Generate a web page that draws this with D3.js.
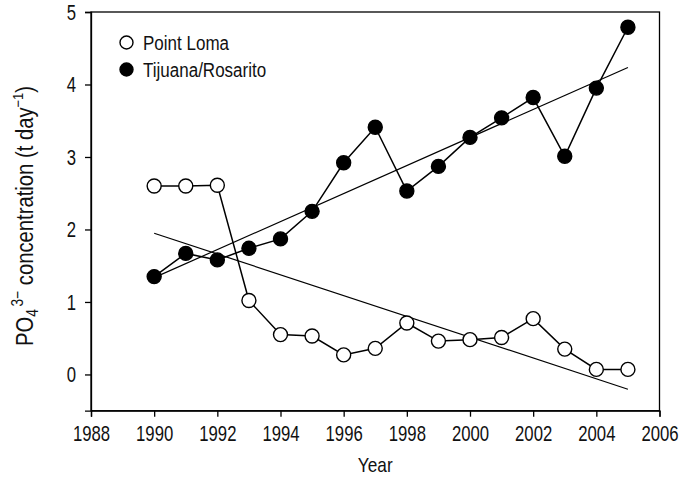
<!DOCTYPE html>
<html>
<head>
<meta charset="utf-8">
<script src="https://cdn.jsdelivr.net/npm/d3@7"></script>
<style>
  body { margin: 0; background: #fff; }
  text { font-family: "Liberation Sans", Arial, sans-serif; fill: #111; }
</style>
</head>
<body>
<div id="chart"></div>
<script>
// data
const years = [1990, 1991, 1992, 1993, 1994, 1995, 1996, 1997, 1998, 1999, 2000, 2001, 2002, 2003, 2004, 2005]
const pointLoma = [2.60, 2.60, 2.61, 1.02, 0.55, 0.53, 0.27, 0.36, 0.71, 0.46, 0.48, 0.51, 0.77, 0.35, 0.07, 0.07]
const tijuana = [1.35, 1.67, 1.58, 1.74, 1.87, 2.25, 2.92, 3.41, 2.53, 2.87, 3.27, 3.54, 3.82, 3.01, 3.95, 4.79]
const xTicks = [1988, 1990, 1992, 1994, 1996, 1998, 2000, 2002, 2004, 2006]
const yTicks = [0, 1, 2, 3, 4, 5]

const width = 689
const height = 478
const margin = { top: 12, right: 29.5, bottom: 67.3, left: 91 }

const svg = d3.select('#chart').append('svg')
  .attr('width', width)
  .attr('height', height)

const x = d3.scaleLinear().domain([1988, 2006]).range([margin.left, width - margin.right])
const y = d3.scaleLinear().domain([-0.5, 5]).range([height - margin.bottom, margin.top])

// the original uses a narrow font, squeeze the regular one
function condense(sel, k) {
  sel.each(function () {
    const len = this.getComputedTextLength()
    d3.select(this).attr('textLength', len * k).attr('lengthAdjust', 'spacingAndGlyphs')
  })
}

// least squares fit, drawn from first to last year
function fit(xs, ys) {
  const mx = d3.mean(xs), my = d3.mean(ys)
  const b = d3.sum(xs, (v, i) => (v - mx) * (ys[i] - my)) / d3.sum(xs, v => (v - mx) ** 2)
  const a = my - b * mx
  return d3.extent(xs).map(v => [v, a + b * v])
}

// frame (top and right sides)
svg.append('rect')
  .attr('x', x(1988)).attr('y', y(5))
  .attr('width', x(2006) - x(1988)).attr('height', y(-0.5) - y(5))
  .attr('fill', 'none').attr('stroke', '#000').attr('stroke-width', 1.3)

const xAxis = svg.append('g')
  .attr('transform', `translate(0,${y(-0.5)})`)
  .call(d3.axisBottom(x).tickValues(xTicks).tickFormat(d3.format('d')).tickSize(6).tickPadding(9))
const yAxis = svg.append('g')
  .attr('transform', `translate(${x(1988)},0)`)
  .call(d3.axisLeft(y).tickValues(yTicks).tickFormat(d3.format('d')).tickSize(6).tickPadding(9))

;[xAxis, yAxis].forEach(g => {
  g.selectAll('path, line').attr('stroke', '#000').attr('stroke-width', 1.3)
  g.selectAll('text').style('font-size', '22px').attr('fill', '#111')
  condense(g.selectAll('text'), 0.76)
})

const line = d3.line().x(d => x(d[0])).y(d => y(d[1]))

// trend lines
;[pointLoma, tijuana].forEach(vals => {
  svg.append('path')
    .attr('d', line(fit(years, vals)))
    .attr('fill', 'none').attr('stroke', '#000').attr('stroke-width', 1.2)
})

const series = [
  { name: 'Point Loma', values: pointLoma, fill: '#fff' },
  { name: 'Tijuana/Rosarito', values: tijuana, fill: '#000' }
]

series.forEach(s => {
  const pts = years.map((yr, i) => [yr, s.values[i]])
  svg.append('path')
    .attr('d', line(pts))
    .attr('fill', 'none').attr('stroke', '#000').attr('stroke-width', 1.5)
})

series.forEach(s => {
  svg.append('g').selectAll('circle')
    .data(years.map((yr, i) => [yr, s.values[i]]))
    .enter().append('circle')
    .attr('cx', d => x(d[0]))
    .attr('cy', d => y(d[1]))
    .attr('r', 7)
    .attr('fill', s.fill)
    .attr('stroke', '#000').attr('stroke-width', 1.4)
})

// legend
const legend = svg.append('g').attr('transform', 'translate(126.5,42.5)')
series.forEach((s, i) => {
  const row = legend.append('g').attr('transform', `translate(0,${i * 27})`)
  row.append('circle').attr('r', 6.5).attr('fill', s.fill).attr('stroke', '#000').attr('stroke-width', 1.4)
  row.append('text').attr('x', 16.5).attr('y', 7).style('font-size', '20px').text(s.name)
})
condense(legend.selectAll('text'), 0.85)

// axis titles
const xt = svg.append('text')
  .attr('x', x(1997)).attr('y', 472)
  .attr('text-anchor', 'middle')
  .style('font-size', '21px')
  .text('Year')
condense(xt, 0.82)

const yt = svg.append('text')
  .attr('transform', 'translate(33,216) rotate(-90)')
  .attr('text-anchor', 'middle')
  .style('font-size', '23.5px')
yt.append('tspan').text('PO')
yt.append('tspan').text('4').style('font-size', '16px').attr('dy', 5)
yt.append('tspan').text('3\u2212').style('font-size', '16px').attr('dx', 3).attr('dy', -15)
yt.append('tspan').text(' concentration (t day').attr('dy', 10)
yt.append('tspan').text('\u22121').style('font-size', '15px').attr('dy', -10)
yt.append('tspan').text(')').attr('dy', 10)
condense(yt, 0.87)
</script>
</body>
</html>
